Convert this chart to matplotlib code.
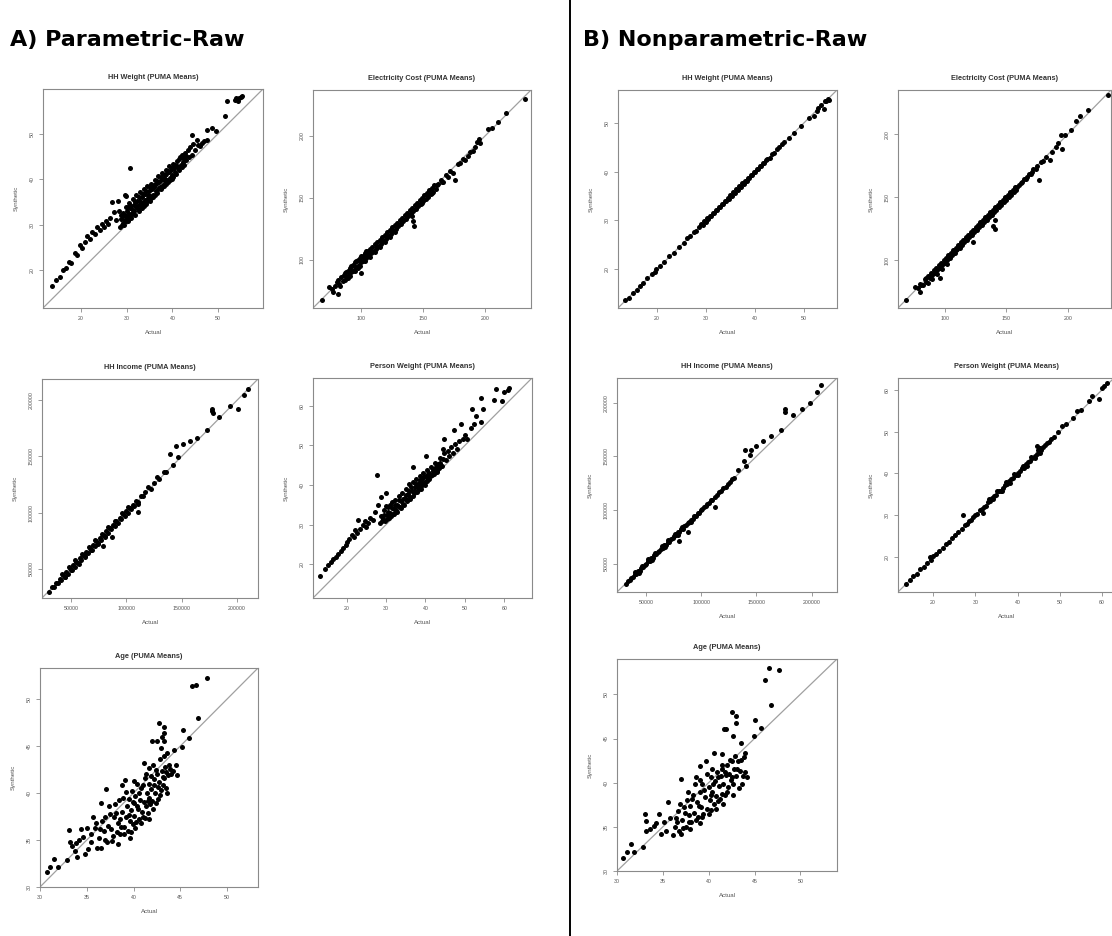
import matplotlib
matplotlib.use("Agg")
import matplotlib.pyplot as plt
from matplotlib.lines import Line2D

plt.rcParams['font.family'] = ['Liberation Sans', 'DejaVu Sans']

W, H = 1112, 936

# ---- data: (actual, synthetic) PUMA means ----
pa_hhw = [
    (13.7, 16.5), (14.6, 17.9), (15.5, 18.6), (16.1, 20.1), (16.8, 20.5), (17.3, 21.9), (17.9, 21.6),
    (18.6, 23.8), (19.2, 23.3), (19.8, 25.6), (20.3, 24.8), (20.9, 26.3), (21.4, 27.6), (21.9, 26.8),
    (22.5, 28.5), (23.0, 27.9), (23.6, 29.5), (24.1, 28.8), (24.5, 30.1), (25.0, 29.4), (25.4, 30.8),
    (25.9, 30.2), (26.4, 31.5), (26.8, 34.9), (27.2, 32.8), (27.6, 31.0), (28.0, 35.3), (28.3, 33.0),
    (28.7, 32.2), (29.6, 36.5), (29.9, 36.2), (30.7, 42.4),
    (28.5, 29.6), (28.8, 31.2), (29.1, 30.3), (29.3, 32.6), (29.6, 31.0), (29.9, 30.8), (30.1, 32.9),
    (30.4, 31.5), (30.7, 33.6), (30.9, 32.2), (31.2, 32.5), (31.5, 34.4), (31.7, 33.0), (32.0, 33.8),
    (32.3, 35.2), (32.5, 33.4), (32.8, 34.6), (33.1, 34.0), (33.3, 36.0), (33.6, 34.8), (33.9, 35.5),
    (34.1, 36.8), (34.4, 35.3), (34.7, 36.5), (34.9, 37.3), (35.2, 36.2), (35.5, 37.9), (35.7, 36.6),
    (36.0, 38.2), (36.3, 37.3), (36.5, 38.9), (36.8, 37.9), (37.1, 39.4), (37.3, 38.2), (37.6, 39.9),
    (37.9, 38.8), (38.1, 40.3), (38.4, 39.5), (38.7, 41.2), (38.9, 39.9), (39.2, 41.5), (39.5, 40.3),
    (39.7, 42.0), (40.0, 41.0), (40.3, 42.4), (40.6, 41.5), (40.9, 42.8),
    (29.4, 29.9), (30.2, 30.7), (31.0, 31.4), (31.8, 32.1), (32.6, 32.9), (33.4, 33.7), (34.2, 34.6),
    (35.0, 35.3), (35.8, 36.0), (36.6, 36.9), (37.4, 37.8), (38.2, 38.5), (39.0, 39.3), (39.8, 40.1),
    (29.8, 33.9), (30.5, 34.8), (31.3, 35.6), (32.1, 36.5), (32.9, 37.2), (33.7, 37.8), (34.5, 38.4),
    (35.3, 39.0), (36.1, 39.8), (36.9, 40.6), (37.7, 41.3), (38.5, 42.0), (39.3, 42.8), (40.1, 43.3),
    (28.9, 30.0), (29.2, 31.8), (29.7, 32.2), (30.0, 31.6), (30.3, 33.8), (30.6, 32.3), (31.0, 34.0),
    (31.4, 33.2), (31.9, 35.0), (32.2, 34.1), (32.7, 36.0), (33.0, 35.2), (33.5, 36.8), (33.8, 34.2),
    (34.3, 37.5), (34.6, 35.8), (35.1, 38.2), (35.4, 35.9), (35.9, 38.8), (36.2, 36.6), (36.7, 39.6),
    (37.0, 38.0), (37.5, 40.4), (37.8, 38.3), (38.3, 41.0), (38.6, 39.0), (39.1, 41.8), (39.4, 39.8),
    (39.9, 42.5), (40.2, 40.5), (40.5, 43.0), (40.8, 41.2), (41.1, 43.9), (41.4, 42.0), (41.7, 44.8),
    (42.0, 42.6), (42.3, 44.6), (42.6, 43.1), (42.9, 45.0),
    (41.2, 42.5), (41.5, 44.5), (41.8, 43.2), (42.1, 45.3), (42.4, 43.8), (42.7, 45.8), (43.0, 44.3),
    (43.3, 46.4), (43.6, 44.8), (43.9, 47.0), (44.2, 45.3), (44.5, 47.8), (44.3, 49.6), (45.0, 46.3),
    (45.4, 48.7), (45.5, 47.5), (46.0, 47.2), (46.5, 48.0), (47.0, 48.3), (47.5, 50.7), (47.5, 48.7),
    (48.7, 51.2), (49.5, 50.5), (51.4, 53.8), (52.0, 57.1), (53.6, 57.3), (53.9, 57.9), (54.2, 57.5),
    (54.6, 57.8), (54.9, 58.1), (54.4, 57.2), (55.2, 58.3),
]

pa_elec = [
    (68.5, 67.7), (74, 78), (76, 76), (80.8, 72.3), (79, 79), (80, 82), (82, 80), (84, 86), (85, 83),
    (86, 88), (88, 86), (89, 91), (90, 88), (91, 93), (92, 90), (93, 96), (94, 92), (95, 98), (96, 94),
    (97, 100), (98, 96), (99, 101), (100, 98), (100, 89), (101, 103), (102, 100), (103, 105), (104, 101),
    (105, 107), (106, 103), (107, 109), (108, 105), (109, 110), (110, 107), (111, 113), (112, 109),
    (113, 114), (114, 111), (115, 116), (116, 113), (117, 118), (118, 115), (119, 120), (120, 117),
    (121, 122), (122, 119), (123, 124), (124, 121), (125, 126), (126, 123), (127, 128), (128, 125),
    (129, 130), (130, 127), (131, 132), (132, 129), (133, 134), (134, 131), (135, 136), (136, 133),
    (137, 138), (138, 135), (139, 140), (140, 137), (141, 142), (141, 135), (141.5, 131), (142, 139),
    (142.7, 127), (143, 144), (144, 141), (145, 146), (146, 143), (147, 148), (148, 145), (149, 150),
    (150, 147), (151, 152), (152, 149), (153, 154), (154, 151), (155, 156), (156, 153), (157, 158),
    (158, 155), (159, 160), (160, 157), (162, 161), (164, 164), (166, 163), (168, 168), (170, 167),
    (172, 172), (174, 170), (176, 164), (178, 177), (180, 178), (182, 181), (184, 180.6), (186, 184),
    (188, 187), (190, 188), (192, 191), (193, 195), (194.7, 197.6), (196, 194), (201.9, 205.6),
    (205.3, 206.2), (210.7, 210.8), (216.8, 218.3), (232, 230),
    (87, 84), (91, 87), (95, 91), (99, 95), (103, 99), (107, 102), (111, 106), (115, 110), (119, 114),
    (123, 118), (127, 122), (88, 90), (92, 95), (96, 99), (100, 103), (104, 107),
    (77, 74), (81, 84), (83, 79), (87, 89), (89, 85), (93, 91), (97, 93), (101, 99), (105, 104),
    (109, 106), (113, 110), (117, 115), (121, 119), (125, 124), (129, 127), (133, 131), (137, 136),
    (141, 139), (145, 144), (149, 146), (153, 152), (157, 154), (161, 160), (165, 163),
]

pa_income = [
    (30700, 29300), (33000, 33500), (35000, 34000), (37000, 37800), (38500, 37000), (40000, 41000),
    (41500, 40000), (43000, 44200), (44500, 43000), (46000, 47000), (47500, 45800), (49000, 50300),
    (50500, 49000), (52000, 53200), (53500, 51800), (55000, 56300), (56500, 55000), (58000, 59200),
    (59500, 57800), (61000, 62400), (62500, 61000), (64000, 65300), (65500, 63800), (67000, 68500),
    (68500, 66800), (70000, 71400), (71500, 70000), (73000, 74500), (74500, 72800), (76000, 77600),
    (77500, 75800), (79000, 80300), (79500, 70700), (80500, 79000), (82000, 83500), (83500, 82000),
    (85000, 86300), (86500, 85000), (87000, 78700), (88000, 89400), (89500, 88000), (91000, 92300),
    (92500, 91000), (94000, 95400), (95500, 94000), (97000, 98400), (98500, 97000), (100000, 101300),
    (101500, 100000), (103000, 104500), (104500, 103000), (106000, 107200), (107500, 106300),
    (109000, 110500), (110500, 109300), (111100, 107700), (111100, 100300), (113000, 114500),
    (115000, 114800), (117000, 118500), (120100, 122500), (122000, 121500), (125000, 126200),
    (127700, 131400), (130000, 129800), (133700, 135800), (136000, 136500), (139700, 152100),
    (142700, 142600), (144800, 159500), (147000, 149500), (151700, 161000), (157800, 163400),
    (163800, 166900), (172800, 173400), (177300, 192000), (177300, 190600), (178000, 188500),
    (184000, 185300), (193900, 195000), (200500, 192000), (206000, 204800), (210400, 210400),
    (42000, 45500), (48000, 51500), (54000, 57800), (60000, 63500), (66000, 69800), (72000, 75300),
    (78000, 81200), (84000, 87500), (90000, 93000), (96000, 99300), (102000, 105000), (45000, 42500),
    (51000, 48500), (57000, 54300), (63000, 60200), (69000, 66500), (75000, 72300), (81000, 78500),
]

pa_pweight = [
    (13.4, 17.0), (14.5, 18.9), (15.4, 19.7), (16.0, 20.5), (16.6, 21.4), (17.3, 21.8), (17.9, 22.7),
    (18.5, 23.3), (19.2, 24.0), (19.8, 24.8), (20.0, 25.6), (20.6, 26.4), (21.3, 27.3), (21.8, 27.0),
    (22.1, 28.6), (22.6, 28.0), (22.9, 31.1), (23.4, 29.0), (24.2, 29.9), (24.6, 31.0), (25.0, 29.4),
    (25.5, 30.3), (26.0, 31.8), (26.7, 31.1), (27.1, 33.2), (27.7, 42.5), (28.0, 34.9), (28.4, 30.5),
    (28.8, 37.0), (28.8, 32.3), (29.2, 31.5), (29.5, 33.8), (29.8, 31.0), (30.0, 37.9), (30.2, 32.5),
    (30.5, 34.5), (30.8, 31.8), (31.1, 33.0), (31.4, 35.6), (31.7, 32.8), (32.0, 34.0), (32.3, 36.2),
    (32.6, 33.6), (32.9, 35.0), (33.2, 37.2), (33.5, 34.5), (33.8, 36.0), (34.1, 38.0), (34.4, 35.3),
    (34.7, 36.8), (35.0, 39.0), (35.3, 36.2), (35.6, 37.8), (35.9, 40.2), (36.2, 37.0), (36.5, 38.6),
    (36.8, 44.6), (36.8, 40.8), (37.1, 37.9), (37.4, 39.5), (37.7, 41.5), (38.0, 38.8), (38.3, 40.6),
    (38.6, 42.3), (38.9, 39.8), (39.2, 41.4), (39.5, 43.0), (39.8, 40.7), (40.2, 47.4), (40.1, 42.2),
    (40.4, 43.8), (40.7, 41.6), (41.0, 43.0), (41.3, 44.5), (41.6, 42.5), (42.0, 44.0), (42.4, 45.6),
    (42.8, 43.6), (43.2, 45.2), (43.6, 46.8), (44.0, 44.9), (44.4, 49.2), (44.4, 46.5), (44.8, 51.7),
    (44.8, 48.0), (45.2, 46.3), (45.6, 48.5), (46.0, 47.2), (46.5, 49.5), (47.0, 48.2), (47.3, 53.9),
    (47.5, 50.3), (48.0, 49.1), (48.5, 51.0), (49.0, 55.3), (49.5, 51.5), (50.0, 52.5), (50.5, 51.6),
    (51.5, 54.3), (51.8, 59.3), (52.2, 55.5), (52.8, 57.5), (54.0, 55.8), (54.1, 61.9), (54.5, 59.3),
    (57.4, 61.4), (57.8, 64.2), (59.3, 61.2), (59.9, 63.5), (60.8, 64.0), (61.2, 64.5),
    (29.0, 30.8), (29.4, 32.4), (29.9, 34.8), (30.3, 31.4), (30.6, 33.2), (31.0, 35.0), (31.3, 32.2),
    (31.6, 34.3), (32.1, 32.6), (32.4, 35.0), (32.8, 33.1), (33.1, 34.6), (33.4, 36.3), (33.9, 34.2),
    (34.3, 36.5), (34.6, 35.0), (35.1, 37.5), (35.4, 35.9), (35.8, 38.4), (36.1, 36.5), (36.4, 39.4),
    (36.9, 37.3), (37.2, 38.6), (37.6, 40.3), (37.9, 38.3), (38.2, 39.6), (38.5, 41.2), (38.8, 39.1),
    (39.1, 40.5), (39.6, 42.0), (39.9, 40.1), (40.3, 41.0), (40.6, 42.8), (40.9, 41.4), (41.2, 42.2),
    (41.8, 43.5), (42.2, 42.7), (42.6, 44.6), (43.0, 43.4), (43.4, 44.4), (43.8, 45.5), (44.2, 44.8),
]

pa_age = [
    (30.8, 31.6), (31.1, 32.1), (31.5, 33.0), (31.9, 32.1), (32.9, 32.9), (33.1, 36.1), (33.2, 34.8),
    (33.4, 34.4), (33.7, 33.8), (33.9, 34.7), (34.2, 35.0), (34.6, 35.3), (34.8, 33.5), (35.0, 36.3),
    (35.1, 34.0), (35.4, 35.6), (35.7, 37.5), (35.9, 36.3), (36.1, 34.1), (36.3, 35.2), (36.5, 38.9),
    (36.6, 37.0), (36.8, 36.0), (37.1, 40.4), (37.0, 35.0), (37.3, 36.5), (37.5, 37.8), (37.7, 34.9),
    (37.9, 37.5), (38.0, 38.8), (38.2, 35.9), (38.3, 36.8), (38.5, 37.2), (38.6, 35.6), (38.75, 40.9),
    (38.8, 38.0), (39.0, 36.4), (39.1, 41.4), (39.2, 37.5), (39.3, 38.6), (39.4, 36.0), (39.5, 39.4),
    (39.6, 37.0), (39.7, 38.2), (39.8, 40.2), (39.9, 36.7), (40.0, 38.9), (40.1, 37.6), (40.2, 39.7),
    (40.3, 36.9), (40.4, 41.0), (40.5, 38.3), (40.6, 37.2), (40.7, 39.3), (40.8, 40.5), (40.9, 38.0),
    (41.0, 37.5), (41.1, 43.2), (41.1, 39.0), (41.2, 41.6), (41.3, 38.6), (41.4, 40.0), (41.5, 37.9),
    (41.6, 42.7), (41.6, 39.5), (41.7, 41.0), (41.8, 38.8), (41.9, 40.4), (42.0, 45.5), (42.0, 39.2),
    (42.1, 43.0), (42.2, 41.5), (42.3, 40.0), (42.4, 38.9), (42.5, 45.5), (42.5, 42.0), (42.6, 40.6),
    (42.7, 47.4), (42.7, 41.2), (42.8, 39.8), (42.9, 44.8), (43.0, 46.0), (43.0, 42.3), (43.1, 40.8),
    (43.2, 47.0), (43.2, 46.4), (43.3, 45.5), (43.3, 41.6), (43.4, 42.8), (43.5, 40.5), (43.6, 44.3),
    (43.7, 41.9), (43.9, 42.6), (44.2, 42.3), (44.5, 43.0), (45.2, 44.9), (45.3, 46.7), (45.9, 45.9),
    (46.2, 51.4), (46.7, 51.5), (46.9, 48.0), (47.8, 52.2),
    (36.0, 36.8), (36.4, 36.2), (36.9, 37.4), (37.2, 34.8), (37.4, 38.6), (37.6, 36.2), (37.8, 35.4),
    (38.1, 37.9), (38.4, 39.3), (38.7, 36.4), (38.9, 39.5), (39.0, 35.6), (39.2, 40.1), (39.5, 37.7),
    (39.7, 35.8), (39.9, 39.0), (40.0, 41.3), (40.2, 36.3), (40.4, 38.6), (40.6, 40.0), (40.8, 36.8),
    (41.0, 40.9), (41.2, 37.3), (41.3, 42.0), (41.5, 39.2), (41.7, 37.2), (41.9, 41.8), (42.1, 38.3),
    (42.2, 40.8), (42.4, 42.5), (42.6, 39.4), (42.8, 43.6), (42.9, 40.3), (43.1, 41.7), (43.3, 43.9),
    (43.5, 42.2), (43.6, 40.0), (43.8, 43.0), (44.0, 42.0), (44.3, 44.6), (44.6, 41.9), (38.3, 34.6),
    (39.6, 35.2), (36.5, 34.2), (35.5, 34.8), (34.4, 36.2), (34.0, 33.2),
]

pb_hhw = [
    (13.5, 13.6), (14.2, 14.1), (15.0, 15.1), (15.8, 15.7), (16.5, 16.6), (17.2, 17.2), (18.0, 18.1),
    (19.0, 18.9), (19.5, 19.4), (19.8, 20.0), (20.6, 20.7), (21.5, 21.4), (22.5, 22.6), (23.5, 23.4),
    (24.5, 24.6), (25.5, 25.4), (26.2, 26.4), (26.8, 26.7), (27.5, 27.6), (28.0, 27.9), (28.5, 28.6),
    (29.0, 29.2), (29.3, 29.1), (29.6, 29.8), (29.9, 29.7), (30.2, 30.4), (30.5, 30.3), (30.8, 31.0),
    (31.1, 30.9), (31.4, 31.6), (31.7, 31.5), (32.0, 32.2), (32.3, 32.1), (32.6, 32.8), (32.9, 32.7),
    (33.2, 33.4), (33.5, 33.3), (33.8, 34.0), (34.1, 33.9), (34.4, 34.6), (34.7, 34.5), (35.0, 35.2),
    (35.3, 35.1), (35.6, 35.8), (35.9, 35.7), (36.2, 36.4), (36.5, 36.3), (36.8, 37.0), (37.1, 36.9),
    (37.4, 37.6), (37.7, 37.5), (38.0, 38.2), (38.3, 38.1), (38.6, 38.8), (38.9, 38.7), (39.2, 39.4),
    (39.5, 39.3), (39.8, 40.0), (40.1, 39.9), (40.4, 40.6), (40.7, 40.5), (41.0, 41.2), (41.3, 41.1),
    (41.6, 41.8), (41.9, 41.7), (42.2, 42.4),
    (42.5, 42.6), (43.0, 42.9), (43.5, 43.6), (44.0, 43.9), (44.5, 44.6), (45.0, 45.0), (45.5, 45.6),
    (46.0, 46.1), (47.0, 46.9), (48.0, 48.0), (49.5, 49.5), (51.0, 51.1), (52.0, 51.5), (52.7, 52.5),
    (53.0, 53.1), (53.5, 53.7), (54.1, 52.9), (54.3, 54.5), (54.6, 54.6), (55.0, 55.0), (55.2, 54.7),
]

pb_elec = [
    (68.4, 68.3), (75.7, 79), (79.7, 74.5), (78, 78), (80, 81), (82, 80), (84, 85), (85, 83), (86, 87),
    (88, 86), (89, 90), (90, 88), (91, 92), (92, 90), (93, 94), (94, 92), (95, 96), (96, 94), (97, 98),
    (98, 96), (99, 100), (100, 98), (101, 102), (102, 100), (103, 104), (104, 102), (105, 106),
    (106, 104), (107, 108), (108, 106), (109, 108), (110, 109), (111, 112), (112, 110), (113, 114),
    (114, 112), (115, 116), (116, 114), (117, 118), (118, 116), (119, 120), (120, 118), (121, 122),
    (122, 120), (123, 114), (123, 124), (124, 122), (125, 126), (126, 124), (127, 128), (128, 126),
    (129, 130), (130, 128), (131, 132), (132, 130), (133, 134), (134, 132), (135, 136), (136, 134),
    (137, 138), (138, 136), (139, 127), (139, 140), (140, 138), (140.5, 132), (140.5, 125), (141, 142),
    (142, 140), (143, 144), (144, 142), (145, 146), (146, 144), (147, 148), (148, 146), (149, 150),
    (150, 148), (151, 152), (152, 150), (153, 154), (154, 152), (155, 156), (156, 154), (157, 158),
    (158, 156), (160, 160), (162, 161), (164, 164), (166, 164), (168, 168), (170, 168), (172, 172),
    (174, 172), (176.5, 163.2), (178, 178), (180, 179), (182, 182), (185.1, 179.3), (187, 186),
    (190, 190), (192, 193), (194.6, 199.5), (195.4, 188.2), (198, 199), (202.7, 203.5), (206.2, 210.2),
    (210, 214.2), (216.2, 218.8), (232.4, 231.2),
    (86, 82), (90, 85), (94, 89), (98, 93), (102, 97), (96, 86),
    (81, 80), (85, 86), (89, 88), (93, 93), (97, 97), (101, 101), (105, 105), (109, 110), (113, 113),
    (117, 117), (121, 121), (125, 125), (129, 129), (133, 133), (137, 137), (141, 141), (145, 145),
    (149, 149), (153, 153), (159, 158), (163, 162), (167, 166), (171, 170), (175, 175),
]

pb_income = [
    (31800, 31250), (33500, 33800), (35000, 34600), (36500, 37000), (38000, 37600), (39500, 40000),
    (41000, 40600), (42500, 43000), (44000, 43500), (45500, 46000), (47000, 46500), (48500, 49000),
    (50000, 49500), (51500, 52000), (53000, 52500), (54500, 55000), (56000, 55500), (57500, 58000),
    (59000, 58500), (60500, 61000), (62000, 61500), (63500, 64000), (65000, 64500), (66500, 67000),
    (68000, 67500), (69500, 70000), (71000, 70500), (72500, 73000), (74000, 73500), (75500, 76000),
    (77000, 76500), (78500, 79000), (79400, 70900), (80000, 79500), (81500, 82000), (83000, 82500),
    (84500, 85000), (86000, 85500), (87500, 88000), (87900, 79700), (89000, 88500), (90500, 91000),
    (92000, 91500), (93500, 94000), (95000, 94500), (96500, 97000), (98000, 97500), (99500, 100000),
    (101000, 100500), (102500, 103000), (104000, 103500), (105500, 106000), (107000, 106500),
    (108500, 109000), (110000, 109500), (112100, 103100), (112000, 112500), (114000, 113600),
    (116000, 116500), (118000, 117600), (120000, 120500), (122000, 121600), (124000, 124500),
    (126000, 125700), (128000, 128500), (130000, 129600), (133300, 137500), (138800, 145300),
    (139400, 156250), (140900, 140600), (143900, 151500), (145400, 156250), (150000, 159400),
    (156000, 164000), (162700, 168750), (172100, 174400), (175700, 193750), (175700, 191250),
    (183300, 188100), (190900, 194400), (198500, 199400), (204500, 210000), (208500, 216250),
    (40000, 42000), (46000, 48000), (52000, 54000), (58000, 60000), (64000, 66000), (70000, 72000),
    (76000, 78000), (82000, 84000), (43000, 41200), (55000, 53000), (67000, 65000), (79000, 77000),
    (91000, 89000),
]

pb_pweight = [
    (13.6, 13.5), (14.5, 14.6), (15.3, 15.5), (16.2, 16.1), (17.0, 17.2), (17.8, 17.7), (18.5, 18.7),
    (19.2, 20.0), (19.5, 19.3), (20.0, 20.2), (20.8, 20.7), (21.5, 21.6), (22.3, 22.2), (23.0, 23.2),
    (23.8, 23.7), (24.5, 24.6), (25.3, 25.2), (26.0, 26.1), (26.8, 26.8), (27.1, 30.2), (27.5, 27.6),
    (28.0, 27.9), (28.5, 28.7), (29.0, 28.9), (29.5, 29.6), (30.0, 30.0), (30.5, 30.4), (31.0, 31.2),
    (31.8, 30.6), (31.5, 31.4), (32.0, 32.1), (32.5, 32.3), (33.0, 33.2), (33.5, 33.4), (34.0, 34.1),
    (34.5, 34.6), (35.0, 34.9), (35.5, 35.7), (36.0, 35.9), (36.5, 36.6), (37.0, 37.2), (37.5, 37.4),
    (38.0, 38.1), (38.5, 38.6), (39.0, 38.9), (39.5, 39.7), (40.0, 40.0), (40.5, 40.6), (41.0, 41.2),
    (41.5, 41.4), (42.0, 42.2), (42.5, 42.7), (43.0, 43.1), (43.5, 43.8), (44.0, 44.2), (44.5, 44.6),
    (44.7, 46.5), (45.0, 45.4), (45.3, 44.9), (45.5, 45.7), (46.0, 46.3), (46.5, 46.7), (47.0, 47.3),
    (47.5, 47.6), (48.0, 48.3), (48.5, 48.8), (49.5, 49.8), (50.6, 51.4), (51.5, 51.8), (53.0, 53.2),
    (54.1, 54.9), (55.0, 55.2), (57.6, 58.4), (57.0, 57.2), (59.2, 57.7), (60.0, 60.5), (60.5, 60.8),
    (61.2, 61.6),
    (33.2, 33.8), (35.2, 35.8), (37.2, 37.9), (39.2, 39.9), (41.2, 41.9), (43.2, 44.0), (34.2, 33.8),
    (36.2, 35.7), (38.2, 37.7), (40.2, 39.7), (42.2, 41.8), (44.2, 43.6), (44.8, 45.7), (45.2, 46.0),
]

pb_age = [
    (30.7, 31.5), (31.1, 32.1), (31.5, 33.1), (31.8, 32.2), (32.8, 32.7), (33.0, 36.4), (33.2, 35.7),
    (33.2, 34.5), (33.6, 34.8), (34.0, 35.1), (34.3, 35.4), (34.6, 36.4), (34.8, 34.2), (35.1, 35.5),
    (35.3, 34.5), (35.6, 37.8), (35.8, 36.0), (36.1, 34.1), (36.3, 35.0), (36.5, 35.6), (36.7, 36.8),
    (36.8, 34.5), (37.0, 40.4), (37.1, 35.8), (37.3, 37.2), (37.5, 35.0), (37.6, 38.0), (37.8, 36.3),
    (38.0, 37.4), (38.1, 35.5), (38.3, 38.6), (38.4, 36.6), (38.6, 40.6), (38.7, 37.8), (38.8, 36.1),
    (39.0, 41.9), (39.0, 38.9), (39.2, 37.2), (39.3, 39.8), (39.4, 36.5), (39.6, 38.4), (39.7, 42.5),
    (39.8, 37.0), (40.0, 39.5), (40.1, 38.0), (40.2, 40.6), (40.3, 36.9), (40.4, 39.0), (40.6, 43.4),
    (40.6, 37.6), (40.7, 40.2), (40.8, 38.5), (40.9, 41.2), (41.0, 37.9), (41.1, 39.6), (41.3, 40.8),
    (41.4, 43.3), (41.4, 38.7), (41.5, 41.6), (41.6, 39.9), (41.7, 46.1), (41.8, 38.6), (41.9, 46.1),
    (41.9, 40.9), (42.0, 42.0), (42.1, 39.5), (42.2, 41.0), (42.4, 40.3), (42.5, 48.0), (42.5, 42.4),
    (42.7, 45.3), (42.7, 39.8), (42.8, 41.6), (43.0, 46.7), (43.0, 47.6), (43.0, 40.8), (43.2, 42.4),
    (43.4, 41.3), (43.5, 44.5), (43.6, 39.9), (43.8, 42.9), (44.0, 41.2), (44.9, 45.3), (45.05, 47.1),
    (45.7, 46.2), (46.1, 51.6), (46.6, 53.0), (46.8, 48.75), (47.7, 52.7),
    (36.4, 36.0), (36.9, 37.6), (37.2, 34.9), (37.4, 36.6), (37.7, 38.9), (37.9, 35.6), (38.2, 38.2),
    (38.5, 39.8), (38.6, 35.8), (38.9, 37.4), (39.1, 40.3), (39.3, 36.1), (39.5, 39.2), (39.8, 41.0),
    (40.0, 36.5), (40.2, 38.6), (40.4, 41.5), (40.5, 39.8), (40.8, 37.0), (41.0, 40.6), (41.2, 38.2),
    (41.4, 42.0), (41.6, 37.6), (41.8, 41.2), (42.0, 39.0), (42.3, 42.6), (42.5, 40.6), (42.7, 38.6),
    (42.9, 43.0), (43.1, 41.6), (43.3, 39.4), (43.5, 42.6), (43.7, 40.8), (44.0, 43.4), (44.2, 40.6),
    (38.0, 34.8), (39.0, 35.4), (37.0, 34.2),
]

weight_ticks = [20, 30, 40, 50]
elec_ticks = [100, 150, 200]
income_ticks = [50000, 100000, 150000, 200000]
pweight_ticks = [20, 30, 40, 50, 60]
age_ticks = [30, 35, 40, 45, 50]

# panel: (data, title, axis limits, ticks, pixel box x0, y0, x1, y1)
panels = [
    (pa_hhw, "HH Weight (PUMA Means)", (11.7, 59.8), weight_ticks, (43, 89, 263, 308)),
    (pa_elec, "Electricity Cost (PUMA Means)", (61, 237), elec_ticks, (313, 90, 531, 308)),
    (pa_income, "HH Income (PUMA Means)", (24000, 219000), income_ticks, (42, 379, 258, 598)),
    (pa_pweight, "Person Weight (PUMA Means)", (11.5, 67), pweight_ticks, (313, 378, 532, 598)),
    (pa_age, "Age (PUMA Means)", (30, 53.3), age_ticks, (40, 668, 258, 887)),
    (pb_hhw, "HH Weight (PUMA Means)", (12, 56.8), weight_ticks, (618, 90, 837, 308)),
    (pb_elec, "Electricity Cost (PUMA Means)", (62, 235), elec_ticks, (898, 90, 1111, 308)),
    (pb_income, "HH Income (PUMA Means)", (23500, 223000), income_ticks, (617, 378, 837, 592)),
    (pb_pweight, "Person Weight (PUMA Means)", (11.7, 62.8), pweight_ticks, (898, 378, 1114, 592)),
    (pb_age, "Age (PUMA Means)", (30, 54), age_ticks, (617, 659, 837, 871)),
]

FRAME = "#8a8a8a"
TXT = "#555555"

fig = plt.figure(figsize=(W / 100, H / 100), dpi=100)

for data, title, lim, ticks, box in panels:
    x0, y0, x1, y1 = box
    ax = fig.add_axes([x0 / W, 1 - y1 / H, (x1 - x0) / W, (y1 - y0) / H])
    actual = [p[0] for p in data]
    synth = [p[1] for p in data]
    ax.plot(lim, lim, color="#a0a0a0", lw=0.9, zorder=1)
    ax.plot(actual, synth, "o", color="black", ms=3.6, mew=0, zorder=2)
    ax.set_xlim(lim)
    ax.set_ylim(lim)
    ax.set_xticks(ticks)
    ax.set_yticks(ticks)
    ax.set_xticklabels([str(t) for t in ticks])
    ax.set_yticklabels([str(t) for t in ticks], rotation=90, va="center")
    ax.tick_params(length=3, width=0.6, color=FRAME, labelsize=3.8, labelcolor=TXT, pad=3)
    for sp in ax.spines.values():
        sp.set_color(FRAME)
        sp.set_linewidth(0.8)
    ax.set_title(title, fontsize=5.3, fontweight="bold", color="#333333", pad=7)
    ax.set_xlabel("Actual", fontsize=4.4, color=TXT, labelpad=6)
    ax.set_ylabel("Synthetic", fontsize=4.4, color=TXT, labelpad=8)

fig.text(10 / W, 1 - 40 / H, "A) Parametric-Raw", fontsize=16, fontweight="bold",
         family="DejaVu Sans", va="center", ha="left")
fig.text(583 / W, 1 - 40 / H, "B) Nonparametric-Raw", fontsize=16, fontweight="bold",
         family="DejaVu Sans", va="center", ha="left")
fig.add_artist(Line2D([570 / W, 570 / W], [0, 1], color="black", lw=1.4))

fig.savefig("out.png", dpi=100)
